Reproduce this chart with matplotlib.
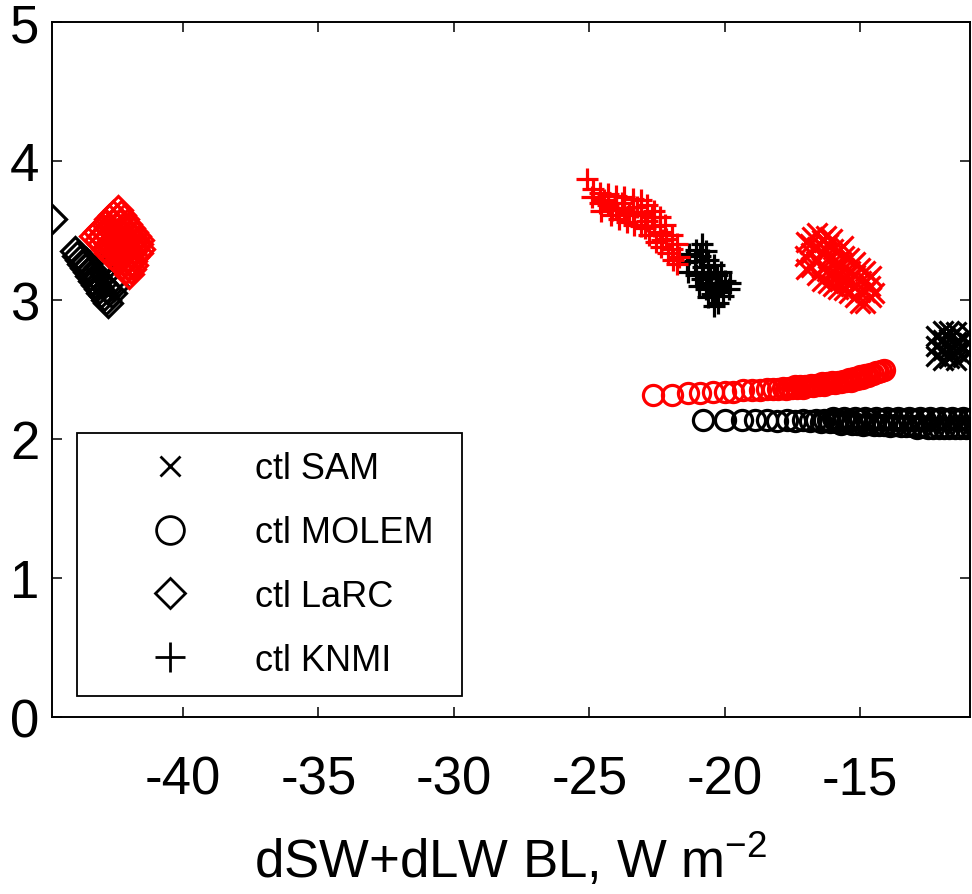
import matplotlib
matplotlib.use('Agg')
import matplotlib.pyplot as plt
from matplotlib.lines import Line2D

plt.rcParams['font.family'] = ['Liberation Sans', 'DejaVu Sans']
plt.rcParams['mathtext.default'] = 'regular'
plt.rcParams['axes.unicode_minus'] = False

# ---- SAM (x) ----
sam_ctl_x = [-12.2, -12.2, -12.2, -11.95, -11.95, -11.95, -11.95, -11.7, -11.7, -11.7,
             -11.7, -11.45, -11.45, -11.45, -11.45, -11.2, -11.2, -11.2, -10.98, -10.98,
             -10.98]
sam_ctl_y = [2.60, 2.67, 2.74, 2.57, 2.64, 2.71, 2.78, 2.58, 2.65, 2.72,
             2.78, 2.57, 2.63, 2.70, 2.77, 2.59, 2.66, 2.73, 2.62, 2.69,
             2.76]
sam_exp_x = [-17.0, -17.02, -16.98, -16.8, -16.83, -16.78, -16.85, -16.6, -16.62, -16.58,
             -16.6, -16.4, -16.42, -16.38, -16.4, -16.2, -16.22, -16.18, -16.2, -16.24,
             -16.0, -16.02, -15.98, -16.0, -16.05, -15.8, -15.82, -15.78, -15.8, -15.6,
             -15.62, -15.58, -15.6, -15.64, -15.4, -15.42, -15.38, -15.4, -15.2, -15.22,
             -15.18, -15.2, -15.0, -15.02, -14.98, -15.0, -14.8, -14.82, -14.78, -14.8,
             -14.6, -14.62, -14.58, -14.5, -16.3, -15.9, -15.5]
sam_exp_y = [3.22, 3.32, 3.42, 3.24, 3.34, 3.45, 3.40, 3.18, 3.28, 3.38,
             3.48, 3.14, 3.23, 3.33, 3.43, 3.12, 3.21, 3.30, 3.40, 3.46,
             3.10, 3.19, 3.28, 3.37, 3.44, 3.08, 3.17, 3.26, 3.35, 3.07,
             3.15, 3.23, 3.32, 3.39, 3.05, 3.13, 3.21, 3.30, 3.02, 3.10,
             3.18, 3.27, 2.98, 3.06, 3.14, 3.23, 2.98, 3.06, 3.14, 3.21,
             3.02, 3.10, 3.17, 3.05, 3.37, 3.22, 3.17]

# ---- MOLEM (o) ----
mol_ctl_x = [-20.81, -20.00, -19.37, -18.89, -18.45, -18.08, -17.71, -17.40, -17.12, -16.86,
             -16.62, -16.45, -16.32,
             -16.2, -16.1, -16.0, -15.9, -15.8, -15.7, -15.6, -15.5, -15.4, -15.3,
             -15.2, -15.1, -15.0, -14.9, -14.8, -14.7, -14.6, -14.5, -14.4, -14.3,
             -14.2, -14.1, -14.0, -13.9, -13.8, -13.7, -13.6, -13.5, -13.4, -13.3,
             -13.2, -13.1, -13.0, -12.9, -12.8, -12.7, -12.6, -12.5, -12.4, -12.3,
             -12.2, -12.1, -12.0, -11.9, -11.8, -11.7, -11.6, -11.5, -11.4, -11.3,
             -11.2, -11.1, -11.0, -10.9, -10.8, -10.7]
mol_ctl_y = [2.14, 2.14, 2.14, 2.14, 2.14, 2.13, 2.14, 2.13, 2.14, 2.13,
             2.14, 2.12, 2.14,
             2.14, 2.12, 2.15, 2.12, 2.14, 2.11, 2.15, 2.12, 2.14, 2.11,
             2.15, 2.11, 2.14, 2.10, 2.15, 2.11, 2.14, 2.10, 2.15, 2.10,
             2.14, 2.10, 2.15, 2.09, 2.14, 2.10, 2.15, 2.09, 2.14, 2.09,
             2.15, 2.09, 2.14, 2.08, 2.15, 2.09, 2.14, 2.08, 2.15, 2.08,
             2.14, 2.08, 2.15, 2.08, 2.14, 2.08, 2.15, 2.08, 2.14, 2.08,
             2.15, 2.08, 2.14, 2.08, 2.15, 2.08]
mol_exp_x = [-22.66, -21.96, -21.37, -20.92, -20.44, -20.00, -19.70, -19.34, -19.00, -18.71,
             -18.45, -18.23, -18.02, -17.84, -17.72, -17.62, -17.52, -17.42, -17.32, -17.22,
             -17.12, -17.02, -16.92, -16.82, -16.72, -16.62, -16.52, -16.42, -16.32, -16.22,
             -16.12, -16.02, -15.92, -15.82, -15.72, -15.62, -15.52, -15.42, -15.32, -15.22,
             -15.12, -15.02, -14.92, -14.82, -14.72, -14.62, -14.52, -14.42, -14.32, -14.22,
             -14.13]
mol_exp_y = [2.32, 2.32, 2.33, 2.33, 2.34, 2.34, 2.34, 2.35, 2.35, 2.35,
             2.36, 2.36, 2.36, 2.37, 2.36, 2.37, 2.37, 2.38, 2.37, 2.38,
             2.37, 2.38, 2.38, 2.39, 2.38, 2.39, 2.39, 2.40, 2.39, 2.40,
             2.40, 2.41, 2.40, 2.41, 2.41, 2.42, 2.42, 2.43, 2.42, 2.44,
             2.43, 2.45, 2.44, 2.46, 2.45, 2.47, 2.47, 2.48, 2.48, 2.49,
             2.50]

# ---- LaRC (diamond) ----
larc_ctl_x = [-44.83, -44.0, -43.9, -43.82, -43.72, -43.62, -43.52, -43.42, -43.32, -43.22,
              -43.12, -43.02, -42.92, -42.84, -42.76, -43.6, -43.4, -43.2, -43.0, -42.8,
              -42.62, -42.55, -42.7, -42.9, -43.1]
larc_ctl_y = [3.58, 3.35, 3.32, 3.29, 3.26, 3.23, 3.20, 3.17, 3.14, 3.11,
              3.08, 3.05, 3.03, 3.00, 2.98, 3.27, 3.22, 3.17, 3.12, 3.08,
              3.05, 3.10, 3.13, 3.19, 3.24]
larc_exp_x = [-42.42, -42.58, -42.30, -42.72, -42.45, -42.18,
              -42.86, -42.58, -42.32, -42.06, -43.0, -42.72, -42.45, -42.2, -41.96,
              -43.14, -42.86, -42.58, -42.32, -42.06, -41.86,
              -43.28, -43.0, -42.72, -42.45, -42.18, -41.92, -41.74,
              -43.12, -42.86, -42.58, -42.32, -42.06, -41.80, -41.62,
              -43.0, -42.72, -42.45, -42.18, -41.92, -41.66,
              -42.86, -42.58, -42.32, -42.06, -41.80, -41.58,
              -42.72, -42.45, -42.18, -41.92, -41.68,
              -42.56, -42.32, -42.06, -41.80,
              -42.42, -42.15, -41.9, -42.26, -42.02, -41.84, -42.12, -41.92, -41.98]
larc_exp_y = [3.65, 3.61, 3.61, 3.58, 3.58, 3.58,
              3.55, 3.55, 3.55, 3.55, 3.52, 3.52, 3.52, 3.52, 3.52,
              3.49, 3.49, 3.49, 3.49, 3.49, 3.49,
              3.46, 3.46, 3.46, 3.46, 3.46, 3.46, 3.46,
              3.43, 3.43, 3.43, 3.43, 3.43, 3.43, 3.43,
              3.40, 3.40, 3.40, 3.40, 3.40, 3.40,
              3.37, 3.37, 3.37, 3.37, 3.37, 3.37,
              3.34, 3.34, 3.34, 3.34, 3.34,
              3.31, 3.31, 3.31, 3.31,
              3.28, 3.28, 3.28, 3.25, 3.25, 3.25, 3.22, 3.22, 3.19]

# ---- KNMI (+) ----
knmi_ctl_x = [-20.85, -21.05, -21.3, -21.4, -21.35, -21.1, -20.9, -20.7, -20.6, -20.8,
              -21.05, -20.85, -20.6, -20.4, -20.3, -20.5, -20.7, -20.45, -20.2, -20.0,
              -19.85, -20.05, -20.25, -20.4, -20.6, -20.95, -20.15, -19.8, -20.55, -20.3]
knmi_ctl_y = [3.40, 3.36, 3.33, 3.27, 3.20, 3.28, 3.32, 3.35, 3.29, 3.24,
              3.18, 3.15, 3.20, 3.25, 3.18, 3.12, 3.08, 3.04, 3.10, 3.14,
              3.08, 3.03, 2.98, 2.96, 3.02, 3.10, 3.20, 3.12, 3.16, 3.06]
knmi_exp_x = [-25.09, -24.85, -24.9, -24.6, -24.6, -24.55, -24.3, -24.3, -24.2, -24.0,
              -24.0, -23.9, -23.7, -23.7, -23.6, -23.4, -23.4, -23.35, -23.1, -23.1,
              -23.1, -22.85, -22.85, -22.8, -22.6, -22.6, -22.55, -22.4, -22.4, -22.35,
              -22.2, -22.15, -22.1, -21.95, -21.95, -21.9, -21.75, -21.7, -21.75, -24.45,
              -23.8, -23.25, -22.7, -24.15, -23.55, -22.95, -22.3]
knmi_exp_y = [3.87, 3.80, 3.74, 3.77, 3.70, 3.64, 3.76, 3.68, 3.61, 3.75,
              3.66, 3.58, 3.74, 3.65, 3.56, 3.73, 3.63, 3.54, 3.72, 3.62,
              3.53, 3.68, 3.57, 3.47, 3.64, 3.53, 3.42, 3.60, 3.49, 3.38,
              3.54, 3.44, 3.34, 3.47, 3.37, 3.29, 3.40, 3.31, 3.26, 3.72,
              3.70, 3.67, 3.60, 3.65, 3.61, 3.52, 3.43]

legend_labels = ['ctl SAM', 'ctl MOLEM', 'ctl LaRC', 'ctl KNMI']

W, H = 972, 895
fig = plt.figure(figsize=(W / 100, H / 100), dpi=100)
ax = fig.add_axes([52 / W, 177 / H, 918 / W, 695 / H])

mew = 2.3
# control runs (black) first, then experiments (red) on top
ax.plot(sam_ctl_x, sam_ctl_y, 'x', color='k', ms=15, mew=mew)
ax.plot(mol_ctl_x, mol_ctl_y, 'o', color='k', mfc='none', ms=14.5, mew=mew)
ax.plot(larc_ctl_x, larc_ctl_y, 'D', color='k', mfc='none', ms=14, mew=mew)
ax.plot(knmi_ctl_x, knmi_ctl_y, '+', color='k', ms=16, mew=mew)

ax.plot(sam_exp_x, sam_exp_y, 'x', color='r', ms=15, mew=mew)
ax.plot(mol_exp_x, mol_exp_y, 'o', color='r', mfc='none', ms=14.5, mew=mew)
ax.plot(larc_exp_x, larc_exp_y, 'D', color='r', mfc='none', ms=14, mew=mew)
ax.plot(knmi_exp_x, knmi_exp_y, '+', color='r', ms=16, mew=mew)

ax.set_xlim(-44.84, -10.94)
ax.set_ylim(0, 5)
ax.set_xticks([-40, -35, -30, -25, -20, -15])
ax.set_yticks([0, 1, 2, 3, 4, 5])
ax.tick_params(direction='in', top=True, right=True, length=7, width=1.1,
               labelsize=38)
ax.tick_params(axis='x', pad=27)
ax.tick_params(axis='y', pad=9)
for s in ax.spines.values():
    s.set_linewidth(1.4)

ax.set_xlabel('dSW+dLW BL, W m$^{-2}$', fontsize=38, labelpad=19)

handles = [
    Line2D([], [], ls='none', marker='x', color='k', ms=15, mew=2),
    Line2D([], [], ls='none', marker='o', color='k', mfc='none', ms=20, mew=2),
    Line2D([], [], ls='none', marker='D', color='k', mfc='none', ms=15, mew=2),
    Line2D([], [], ls='none', marker='+', color='k', ms=21, mew=2),
]
leg = ax.legend(handles, legend_labels, loc='lower left', mode='expand',
                bbox_to_anchor=(77 / W, (H - 697) / H, 385 / W, 262 / H),
                bbox_transform=fig.transFigure, fontsize=26, frameon=True,
                fancybox=False, framealpha=1, edgecolor='k',
                borderpad=0.5, labelspacing=0.8, handlelength=4.16,
                handletextpad=0.28, borderaxespad=0)
leg.get_frame().set_linewidth(1.3)

fig.savefig('out.png', dpi=100)
